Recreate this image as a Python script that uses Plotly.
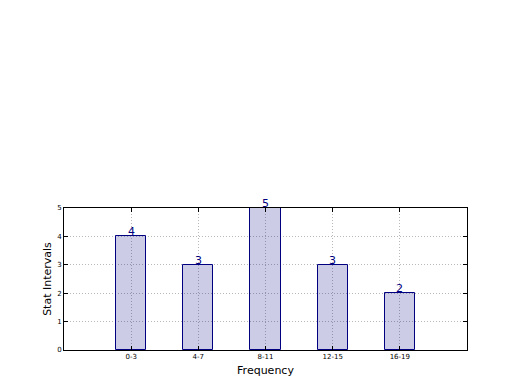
import plotly.graph_objects as go

categories = ["0-3", "4-7", "8-11", "12-15", "16-19"]
values = [4, 3, 5, 3, 2]
positions = list(range(len(categories)))

fig = go.Figure()
fig.add_trace(go.Bar(
    x=positions, y=values, width=0.45,
    marker=dict(color="rgba(0,0,128,0.2)", line=dict(color="navy", width=1)),
    hoverinfo="skip",
))
for p, v in zip(positions, values):
    fig.add_annotation(x=p, y=v, text=str(v), showarrow=False,
                       yanchor="bottom", yshift=-4,
                       font=dict(color="navy", size=11, family="DejaVu Sans"))

fig.update_layout(
    width=520, height=390,
    margin=dict(l=64, r=53, t=208, b=40, autoexpand=False),
    paper_bgcolor="white", plot_bgcolor="white",
    font=dict(family="DejaVu Sans", color="black"),
    showlegend=False,
    bargap=0,
)
fig.update_xaxes(
    range=[-1, 5], tickvals=positions, ticktext=categories,
    tickfont=dict(size=7), ticks="inside", ticklen=4, tickcolor="black",
    showline=True, linecolor="black", linewidth=1, mirror="allticks",
    showgrid=True, gridcolor="#b8b8b8", griddash="1px,2px", gridwidth=1,
    zeroline=False, automargin=False,
    title=dict(text="Frequency", font=dict(size=11), standoff=5),
)
fig.update_yaxes(
    range=[0, 5], tickvals=[0, 1, 2, 3, 4, 5],
    tickfont=dict(size=7), ticks="inside", ticklen=4, tickcolor="black",
    showline=True, linecolor="black", linewidth=1, mirror="allticks",
    showgrid=True, gridcolor="#b8b8b8", griddash="1px,2px", gridwidth=1,
    zeroline=False, automargin=False,
    title=dict(text="Stat Intervals", font=dict(size=11), standoff=3),
)
fig.write_html("out.html", config={"displayModeBar": False},
               post_script="document.body.style.margin='0';")
